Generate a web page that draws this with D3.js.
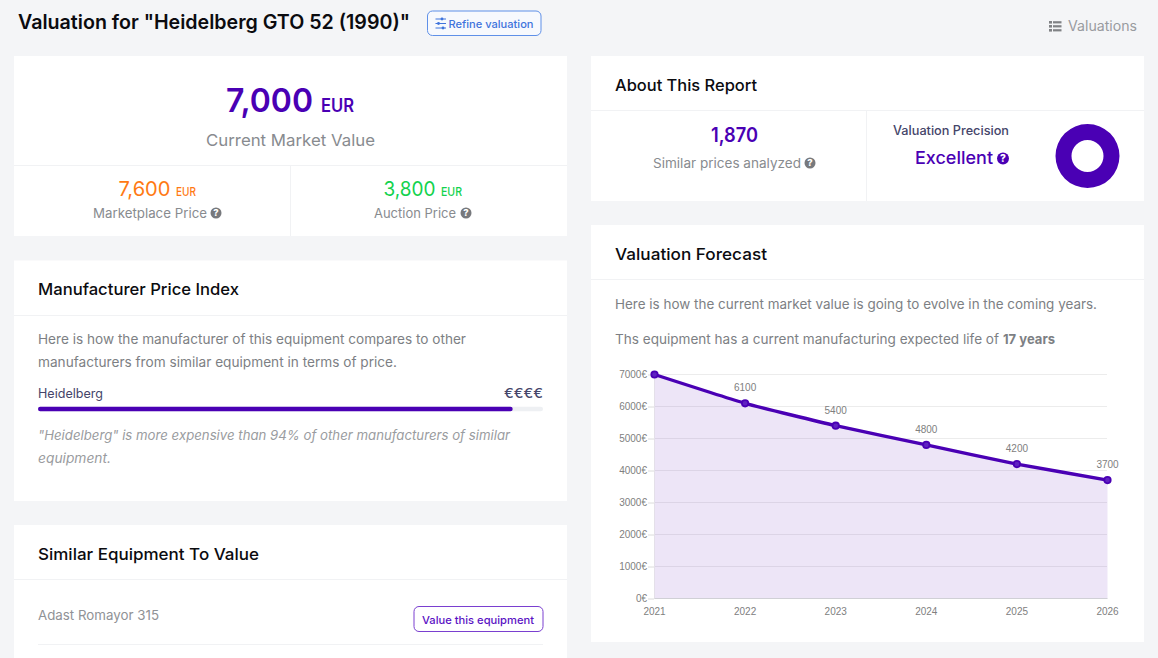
<!DOCTYPE html>
<html>
<head>
<meta charset="utf-8">
<script src="https://cdnjs.cloudflare.com/ajax/libs/d3/7.8.5/d3.min.js"></script>
<style>
html,body{margin:0;padding:0;background:#f4f5f7;overflow:hidden}
svg{display:block}
</style>
</head>
<body>
<script>
// chart values
var years = [2021,2022,2023,2024,2025,2026];
var forecast = [7000,6100,5400,4800,4200,3700];
var yTicks = [0,1000,2000,3000,4000,5000,6000,7000];
var priceIndex = [94];
var precision = [100];

var purple = '#4a00b4';
var grey = '#888b8f';
var font = 'Inter, "Noto Sans", sans-serif';

var svg = d3.select('body').append('svg').attr('width',1158).attr('height',658);

// white cards
function card(x,y,w,h){
  svg.append('rect').attr('x',x).attr('y',y).attr('width',w).attr('height',h).attr('fill','#fff');
}
function rule(x1,y1,x2,y2){
  svg.append('line').attr('x1',x1).attr('y1',y1).attr('x2',x2).attr('y2',y2)
  .attr('stroke','#f1f2f4').attr('stroke-width',1);
}
// text squeezed to the width measured on the picture
function label(str,x,y,w,size,color,weight,italic){
  return svg.append('text').attr('x',x).attr('y',y).text(str)
  .attr('font-family',font).attr('font-size',size).attr('fill',color)
  .attr('font-weight',weight||400).attr('font-style',italic?'italic':'normal')
  .attr('textLength',w).attr('lengthAdjust','spacingAndGlyphs');
}
function help(cx,cy,r,color){
  svg.append('circle').attr('cx',cx).attr('cy',cy).attr('r',r).attr('fill',color);
  svg.append('text').attr('x',cx).attr('y',cy+r*0.62).text('?').attr('text-anchor','middle')
  .attr('font-family',font).attr('font-size',r*1.7).attr('font-weight',800).attr('fill','#fff');
}

card(14,56,553,180);
card(14,260.5,553,240.5);
card(14,525,553,140);
card(591,56,553,145);
card(591,225,553,417);

rule(14,165.5,567,165.5); rule(290.5,165,290.5,236);
rule(14,315.5,567,315.5);
rule(14,579.5,567,579.5); rule(38,644.5,543,644.5);
rule(591,110.5,1144,110.5); rule(866.5,110,866.5,201);
rule(591,279.5,1144,279.5);

// header
label('Valuation for "Heidelberg GTO 52 (1990)"',18,29,392,20,'#0b0b0f',600);
svg.append('rect').attr('x',427.5).attr('y',11).attr('width',113.5).attr('height',24.5).attr('rx',5)
.attr('fill','#f7f9fd').attr('stroke','#5f90e8');
[[19,442],[23.5,438.5],[28,443]].forEach(function(d){
  svg.append('line').attr('x1',435.5).attr('x2',446).attr('y1',d[0]).attr('y2',d[0])
  .attr('stroke','#3f74dc').attr('stroke-width',1);
  svg.append('circle').attr('cx',d[1]).attr('cy',d[0]).attr('r',1.4).attr('fill','#3f74dc');
});
label('Refine valuation',448.5,28,85,11,'#3f74dc',500);
[21,25,29].forEach(function(y){
  svg.append('rect').attr('x',1049).attr('y',y).attr('width',3).attr('height',2.6).attr('fill','#808285');
  svg.append('rect').attr('x',1053).attr('y',y+0.2).attr('width',8.5).attr('height',2.2).attr('fill','#808285');
});
label('Valuations',1068,31,69,14,'#999b9f');

// market value card
label('7,000',226,112,87,33,purple,600);
label('EUR',321,112,33,18,purple,600);
label('Current Market Value',206,146,169,16.5,grey);
label('7,600',118.5,196,52,20,'#ff7a14',400);
label('EUR',176,196,20,12,'#ff7a14',500);
label('Marketplace Price',93,218,114,13,grey);
help(216,213,5.5,'#77797d');
label('3,800',383.5,196,52,20,'#13d24e',400);
label('EUR',441,196,21,12,'#13d24e',500);
label('Auction Price',374,218,82,13,grey);
help(466,213,5.5,'#77797d');

// about card
label('About This Report',615,91,142,16.5,'#0b0b0f',500);
label('1,870',711,142,47,20,purple,600);
label('Similar prices analyzed',653,168,148,13,grey);
help(810,163,5.5,'#77797d');
label('Valuation Precision',893,135,116,12.5,'#45456a',500);
label('Excellent',915,164,78,17.5,purple,500);
help(1003,158.5,6,purple);

var arc = d3.arc().innerRadius(16).outerRadius(32);
var pie = d3.pie().sort(null);
svg.append('g').attr('transform','translate(1087.5,156)')
.selectAll('path').data(pie(precision)).enter().append('path')
.attr('d',arc).attr('fill',purple);

// manufacturer index
label('Manufacturer Price Index',38,295,201,16.5,'#0b0b0f',500);
label('Here is how the manufacturer of this equipment compares to other',38,344,428,13.5,'#7d7f84');
label('manufacturers from similar equipment in terms of price.',38,366.5,359,13.5,'#7d7f84');
label('Heidelberg',38,398,65,12.5,'#45456a',400);
label('€€€€',504,398,39,13,'#45456a',500);
var barX = d3.scaleLinear().domain([0,100]).range([38,543]);
svg.append('rect').attr('x',barX(0)).attr('y',406.8).attr('width',barX(100)-barX(0)).attr('height',4.5).attr('rx',2.2).attr('fill','#eef0f3');
svg.selectAll('.bar').data(priceIndex).enter().append('rect').attr('class','bar')
.attr('x',barX(0)).attr('y',406.8).attr('height',4.5).attr('rx',2.2)
.attr('width',function(d){return barX(d)-barX(0);}).attr('fill',purple);
label('"Heidelberg" is more expensive than 94% of other manufacturers of similar',38,440,472,13.5,'#9a9ca0',400,true);
label('equipment.',38,462.5,73,13.5,'#9a9ca0',400,true);

// similar equipment
label('Similar Equipment To Value',38,560,221,16.5,'#0b0b0f',500);
label('Adast Romayor 315',38,620,121,13.5,'#909296');
svg.append('rect').attr('x',414).attr('y',606.5).attr('width',129).attr('height',25).attr('rx',5)
.attr('fill','#fff').attr('stroke','#7a3fd0');
label('Value this equipment',422,624,112,11,'#5a12c4',500);

// forecast
label('Valuation Forecast',615,259.5,152,16.5,'#0b0b0f',500);
label('Here is how the current market value is going to evolve in the coming years.',615,308.5,482,13.5,'#7d7f84');
label('Ths equipment has a current manufacturing expected life of',615,344,384,13.5,'#7d7f84');
label('17 years',1003,344,52,13.5,'#7d7f84',700);

var x = d3.scalePoint().domain(years).range([654.5,1107.5]);
var y = d3.scaleLinear().domain([0,7000]).range([598.5,374.5]);
var rows = years.map(function(yr,i){return {year:yr,value:forecast[i]};});
var curve = d3.curveCardinal.tension(0.6);

var yAxis = d3.axisLeft(y).tickValues(yTicks).tickSize(6)
.tickFormat(function(d){return d+'€';});
var xAxis = d3.axisBottom(x).tickSize(0).tickPadding(10);

// grid first, area sits on top of it with a see-through fill
svg.append('g').selectAll('line').data(yTicks).enter().append('line')
.attr('x1',654).attr('x2',1107)
.attr('y1',function(d){return y(d);}).attr('y2',function(d){return y(d);})
.attr('stroke','#ececec');
svg.append('line').attr('x1',654.5).attr('x2',654.5).attr('y1',374).attr('y2',598).attr('stroke','#ececec');

svg.append('path').datum(rows)
.attr('d',d3.area().x(function(d){return x(d.year);}).y0(y(0)).y1(function(d){return y(d.value);}).curve(curve))
.attr('fill',purple).attr('fill-opacity',0.1);

var gy = svg.append('g').attr('transform','translate(654,0)').call(yAxis);
gy.select('.domain').remove();
gy.selectAll('line').attr('stroke','#dcdcdc');
gy.selectAll('text').attr('font-family','"Liberation Sans"').attr('font-size',10).attr('fill','#808080').attr('x',-7).attr('dy','0.28em');

var gx = svg.append('g').attr('transform','translate(-0.5,598)').call(xAxis);
gx.select('.domain').attr('stroke','#d0d0d6');
gx.selectAll('text').attr('font-family','"Liberation Sans"').attr('font-size',10).attr('fill','#808080');

svg.append('path').datum(rows)
.attr('d',d3.line().x(function(d){return x(d.year);}).y(function(d){return y(d.value);}).curve(curve))
.attr('fill','none').attr('stroke',purple).attr('stroke-width',3.4);

svg.selectAll('.pt').data(rows).enter().append('circle').attr('class','pt')
.attr('cx',function(d){return x(d.year);}).attr('cy',function(d){return y(d.value);})
.attr('r',3.2).attr('fill','#5f22c0').attr('stroke',purple).attr('stroke-width',1.8);

// value labels, the first point has none
svg.selectAll('.val').data(rows.slice(1)).enter().append('text').attr('class','val')
.attr('x',function(d){return x(d.year);}).attr('y',function(d){return y(d.value)-12;})
.attr('text-anchor','middle').attr('font-family','"Liberation Sans"').attr('font-size',10).attr('fill','#808080')
.text(function(d){return d.value;});
</script>
</body>
</html>
